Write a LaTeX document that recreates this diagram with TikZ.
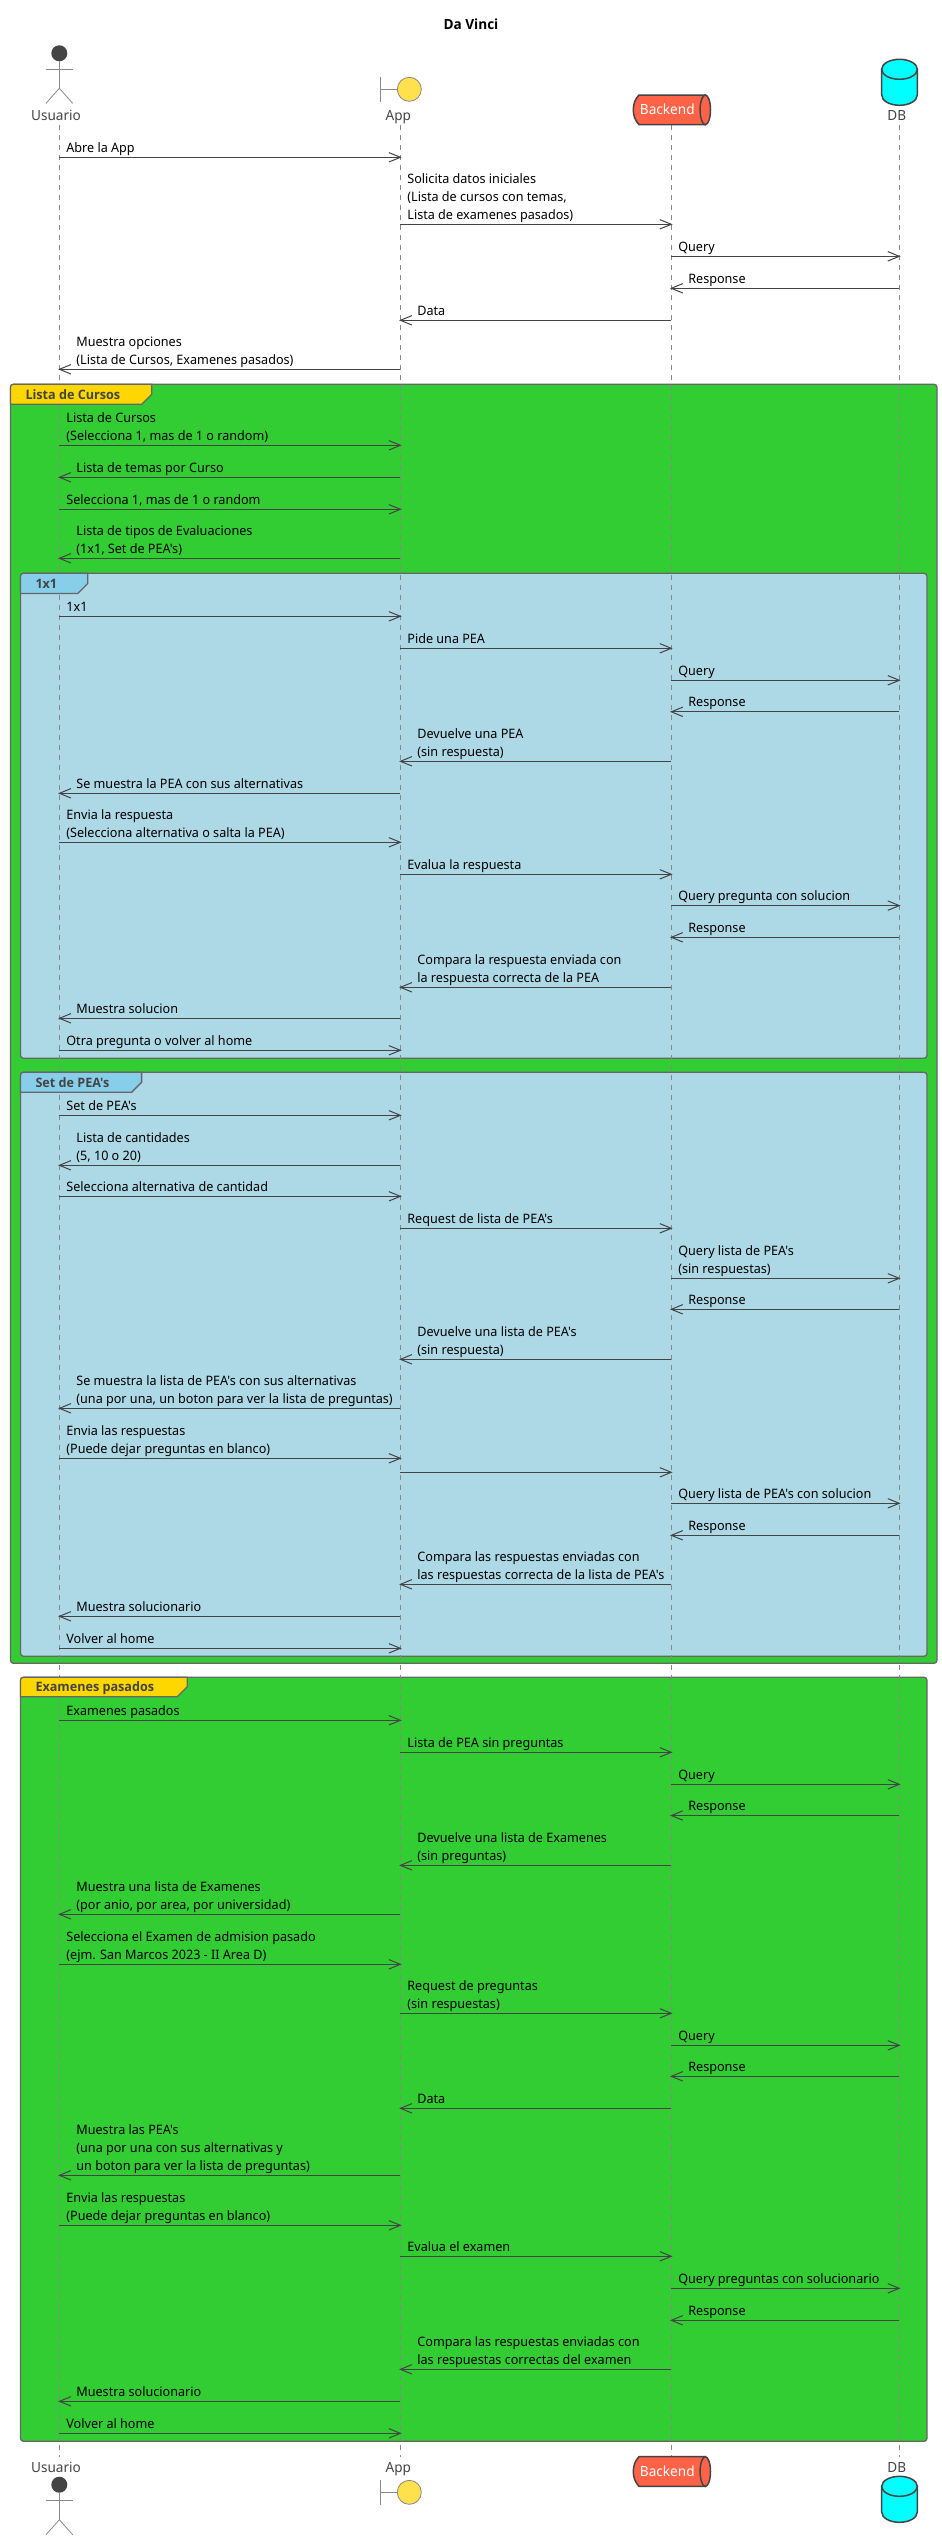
\documentclass[tikz,border=0pt]{standalone}
\usepackage{fontspec}
\setmainfont{Noto Sans}
\newfontfamily\noto{Noto Sans}[FakeStretch=0.97]
\newfontfamily\notob{Open Sans}[FakeStretch=0.97]
\definecolor{ink}{HTML}{444444}
\definecolor{edge}{HTML}{666666}
\definecolor{lifegray}{HTML}{888888}
\definecolor{fgreen}{HTML}{32CD32}
\definecolor{fblue}{HTML}{ADD8E6}
\definecolor{tabgold}{HTML}{FFD700}
\definecolor{tabsky}{HTML}{87CEEB}
\definecolor{tomatoq}{HTML}{FF6347}
\definecolor{aquadb}{HTML}{00FFFF}
\definecolor{boundy}{HTML}{FFE14D}
\tikzset{
  msg/.style={draw=ink,line width=1pt},
  tipline/.style={draw=ink,line width=1pt,line join=miter},
  life/.style={draw=lifegray,line width=0.8pt,dash pattern=on 5pt off 5pt},
  framebox/.style={draw=edge,line width=1.3pt,rounded corners=3pt},
  tabbox/.style={draw=edge,line width=1.3pt},
  msglabel/.style={anchor=south west,inner sep=0pt,outer sep=0pt,align=left,text=black,font=\noto\fontsize{13}{17.7}\selectfont},
  tablabel/.style={anchor=base west,inner sep=0pt,outer sep=0pt,text=ink,font=\notob\bfseries\fontsize{13}{16}\selectfont},
  partlabel/.style={anchor=base,inner sep=0pt,outer sep=0pt,text=ink,font=\noto\fontsize{14}{17}\selectfont},
  thin actor/.style={draw=lifegray,line width=0.8pt},
  shapeline/.style={draw=ink,line width=1.5pt}
}
\def\xU{59.4}\def\xA{400.4}\def\xB{671.3}\def\xD{899.3}
\newcommand{\strutz}{\rule[-4pt]{0pt}{1pt}}
% #1 id, #2 from x, #3 to x, #4 y, #5 text
\newcommand{\msgr}[5]{%
  \coordinate (m#1a) at (#2,#4);
  \coordinate (m#1b) at (#3,#4);
  \draw[msg] (m#1a) -- (m#1b);
  \draw[tipline] ([xshift=-11.5pt,yshift=4.7pt]m#1b) -- (m#1b) -- ([xshift=-11.5pt,yshift=-4.7pt]m#1b);
  \node[msglabel,xshift=7pt,yshift=1.3pt] (t#1) at (m#1a) {#5\strutz};
}
\newcommand{\msgl}[5]{%
  \coordinate (m#1a) at (#2,#4);
  \coordinate (m#1b) at (#3,#4);
  \draw[msg] (m#1a) -- (m#1b);
  \draw[tipline] ([xshift=11.5pt,yshift=4.7pt]m#1b) -- (m#1b) -- ([xshift=11.5pt,yshift=-4.7pt]m#1b);
  \node[msglabel,xshift=17pt,yshift=1.3pt] (t#1) at (m#1b) {#5\strutz};
}
% frame: #1 left #2 top #3 right #4 bottom #5 fill
\newcommand{\framerect}[5]{\path[framebox,fill=#5] (#1,#2) rectangle (#3,#4);}
% tab: #1 left #2 top #3 right #4 bottom #5 fill #6 id #7 text
\newcommand{\frametab}[7]{%
  \path[tabbox,fill=#5] (#1,#4) -- (#1,#2+3) .. controls (#1,#2+1) and (#1+1,#2) .. (#1+3,#2) -- (#3,#2) -- (#3,#4-10) -- (#3-10,#4) -- cycle;
  \node[tablabel] (#6) at (#1+15,#4-5.2) {#7};
}
\newcommand{\pactor}{%
  \fill[ink] (59.3,53.3) circle (8pt);
  \draw[thin actor] (59.3,61) -- (59.3,88.3);
  \draw[thin actor] (46,69.3) -- (72.7,69.3);
  \draw[thin actor] (46,103.3) -- (59.3,88.3) -- (72.7,103.3);
}
\newcommand{\pbound}{%
  \draw[thin actor] (380.3,77.3) -- (380.3,101.7);
  \draw[thin actor] (380.3,89.3) -- (397.3,89.3);
  \path[draw=lifegray,line width=0.8pt,fill=boundy] (409.3,89.3) circle (12pt);
}
\newcommand{\pqueue}{%
  \path[shapeline,fill=tomatoq] (639,95) -- (705.3,95) -- (705.3,124.7) -- (639,124.7) .. controls (635,120) and (633.3,116) .. (633.3,110) .. controls (633.3,104) and (635,99) .. (639,95) -- cycle;
  \path[shapeline,fill=tomatoq] (705.3,109.85) circle [x radius=5.2pt,y radius=14.85pt];
}
\newcommand{\pdb}{%
  \path[shapeline,fill=aquadb] (881.7,69.3) -- (881.7,95) .. controls (881.7,101) and (890,105.3) .. (899.5,105.3) .. controls (909,105.3) and (917.3,101) .. (917.3,95) -- (917.3,69.3) -- cycle;
  \path[shapeline,fill=aquadb] (899.5,69.3) circle [x radius=17.8pt,y radius=10pt];
}
\begin{document}
\begin{tikzpicture}[x=1pt,y=-1pt]
\useasboundingbox (0,0) rectangle (942,2540);
\fill[white] (0,0) rectangle (942,2540);
\node[anchor=base,inner sep=0pt,text=black,font=\notob\bfseries\fontsize{14}{17}\selectfont] (title) at (471,30) {Da Vinci};

% frames
\framerect{10.5}{384.3}{937}{1663.3}{fgreen}
\framerect{20.5}{573.3}{927}{1058.3}{fblue}
\framerect{20.5}{1072.3}{927}{1656.3}{fblue}
\framerect{20.5}{1677.3}{927}{2441.3}{fgreen}

% lifelines
\coordinate (lUt) at (\xU,125); \coordinate (lUb) at (\xU,2457);
\coordinate (lAt) at (\xA,125); \coordinate (lAb) at (\xA,2457);
\coordinate (lBt) at (\xB,125); \coordinate (lBb) at (\xB,2457);
\coordinate (lDt) at (\xD,125); \coordinate (lDb) at (\xD,2457);
\draw[life] (lUt) -- (lUb);
\draw[life] (lAt) -- (lAb);
\draw[life] (lBt) -- (lBb);
\draw[life] (lDt) -- (lDb);

% tabs
\frametab{10.5}{384.3}{151.7}{404.3}{tabgold}{tabA}{Lista de Cursos}
\frametab{20.5}{573.3}{87.7}{593.5}{tabsky}{tabB}{1x1}
\frametab{20.5}{1072.3}{141.6}{1092.3}{tabsky}{tabC}{Set de PEA's}
\frametab{20.5}{1677.3}{187.2}{1696.7}{tabgold}{tabD}{Examenes pasados}

% participants, top
\pactor \pbound \pqueue \pdb
\node[partlabel] (pU) at (56,120) {Usuario};
\node[partlabel] (pA) at (398.3,120) {App};
\node[partlabel,text=white,anchor=center] (pB) at (667.3,109.5) {Backend};
\node[partlabel] (pD) at (896.7,120) {DB};

% participants, bottom
\begin{scope}[yshift=-2431.4pt]\pactor\end{scope}
\begin{scope}[yshift=-2403pt]\pbound\end{scope}
\begin{scope}[yshift=-2361.7pt]\pqueue\end{scope}
\begin{scope}[yshift=-2417pt]\pdb\end{scope}
\node[partlabel] (qU) at (56,2472) {Usuario};
\node[partlabel] (qA) at (398.3,2472) {App};
\node[partlabel,text=white,anchor=center] (qB) at (667.3,2471.2) {Backend};
\node[partlabel] (qD) at (896.7,2472) {DB};

% messages
\msgr{1}{\xU}{\xA}{157.3}{Abre la App}
\msgr{2}{\xA}{\xB}{224.3}{Solicita datos iniciales\\(Lista de cursos con temas,\\Lista de examenes pasados)}
\msgr{3}{\xB}{\xD}{256.3}{Query}
\msgl{4}{\xD}{\xB}{288.3}{Response}
\msgl{5}{\xB}{\xA}{320.3}{Data}
\msgl{6}{\xA}{\xU}{369.3}{Muestra opciones\\(Lista de Cursos, Examenes pasados)}

\msgr{7}{\xU}{\xA}{445.3}{Lista de Cursos\\(Selecciona 1, mas de 1 o random)}
\msgl{8}{\xA}{\xU}{477.3}{Lista de temas por Curso}
\msgr{9}{\xU}{\xA}{509.3}{Selecciona 1, mas de 1 o random}
\msgl{10}{\xA}{\xU}{558.3}{Lista de tipos de Evaluaciones\\(1x1, Set de PEA's)}

\msgr{11}{\xU}{\xA}{616.3}{1x1}
\msgr{12}{\xA}{\xB}{648.3}{Pide una PEA}
\msgr{13}{\xB}{\xD}{680.3}{Query}
\msgl{14}{\xD}{\xB}{711.8}{Response}
\msgl{15}{\xB}{\xA}{761.3}{Devuelve una PEA\\(sin respuesta)}
\msgl{16}{\xA}{\xU}{793.3}{Se muestra la PEA con sus alternativas}
\msgr{17}{\xU}{\xA}{842.3}{Envia la respuesta\\(Selecciona alternativa o salta la PEA)}
\msgr{18}{\xA}{\xB}{874.3}{Evalua la respuesta}
\msgr{19}{\xB}{\xD}{905.6}{Query pregunta con solucion}
\msgl{20}{\xD}{\xB}{937.3}{Response}
\msgl{21}{\xB}{\xA}{987.3}{Compara la respuesta enviada con\\la respuesta correcta de la PEA}
\msgl{22}{\xA}{\xU}{1018.3}{Muestra solucion}
\msgr{23}{\xU}{\xA}{1050.3}{Otra pregunta o volver al home}

\msgr{24}{\xU}{\xA}{1115.3}{Set de PEA's}
\msgl{25}{\xA}{\xU}{1165.3}{Lista de cantidades\\(5, 10 o 20)}
\msgr{26}{\xU}{\xA}{1196.3}{Selecciona alternativa de cantidad}
\msgr{27}{\xA}{\xB}{1228.3}{Request de lista de PEA's}
\msgr{28}{\xB}{\xD}{1278.3}{Query lista de PEA's\\(sin respuestas)}
\msgl{29}{\xD}{\xB}{1309.3}{Response}
\msgl{30}{\xB}{\xA}{1359.3}{Devuelve una lista de PEA's\\(sin respuesta)}
\msgl{31}{\xA}{\xU}{1408.3}{Se muestra la lista de PEA's con sus alternativas\\(una por una, un boton para ver la lista de preguntas)}
\msgr{32}{\xU}{\xA}{1458.3}{Envia las respuestas\\(Puede dejar preguntas en blanco)}
\coordinate (m33a) at (\xA,1472.3);
\coordinate (m33b) at (\xB,1472.3);
\draw[msg] (m33a) -- (m33b);
\draw[tipline] ([xshift=-11.5pt,yshift=4.7pt]m33b) -- (m33b) -- ([xshift=-11.5pt,yshift=-4.7pt]m33b);
\msgr{34}{\xB}{\xD}{1503.3}{Query lista de PEA's con solucion}
\msgl{35}{\xD}{\xB}{1535.3}{Response}
\msgl{36}{\xB}{\xA}{1584.3}{Compara las respuestas enviadas con\\las respuestas correcta de la lista de PEA's}
\msgl{37}{\xA}{\xU}{1616.3}{Muestra solucionario}
\msgr{38}{\xU}{\xA}{1648.3}{Volver al home}

\msgr{39}{\xU}{\xA}{1720.3}{Examenes pasados}
\msgr{40}{\xA}{\xB}{1752.3}{Lista de PEA sin preguntas}
\msgr{41}{\xB}{\xD}{1784.3}{Query}
\msgl{42}{\xD}{\xB}{1815.5}{Response}
\msgl{43}{\xB}{\xA}{1865.3}{Devuelve una lista de Examenes\\(sin preguntas)}
\msgl{44}{\xA}{\xU}{1914.3}{Muestra una lista de Examenes\\(por anio, por area, por universidad)}
\msgr{45}{\xU}{\xA}{1964.3}{Selecciona el Examen de admision pasado\\(ejm. San Marcos 2023 - II Area D)}
\msgr{46}{\xA}{\xB}{2013.3}{Request de preguntas\\(sin respuestas)}
\msgr{47}{\xB}{\xD}{2045.3}{Query}
\msgl{48}{\xD}{\xB}{2076.3}{Response}
\msgl{49}{\xB}{\xA}{2108.3}{Data}
\msgl{50}{\xA}{\xU}{2175.3}{Muestra las PEA's\\(una por una con sus alternativas y\\un boton para ver la lista de preguntas)}
\msgr{51}{\xU}{\xA}{2225.3}{Envia las respuestas\\(Puede dejar preguntas en blanco)}
\msgr{52}{\xA}{\xB}{2256.3}{Evalua el examen}
\msgr{53}{\xB}{\xD}{2288.3}{Query preguntas con solucionario}
\msgl{54}{\xD}{\xB}{2320.3}{Response}
\msgl{55}{\xB}{\xA}{2369.3}{Compara las respuestas enviadas con\\las respuestas correctas del examen}
\msgl{56}{\xA}{\xU}{2401.3}{Muestra solucionario}
\msgr{57}{\xU}{\xA}{2433.3}{Volver al home}
\end{tikzpicture}
\end{document}
